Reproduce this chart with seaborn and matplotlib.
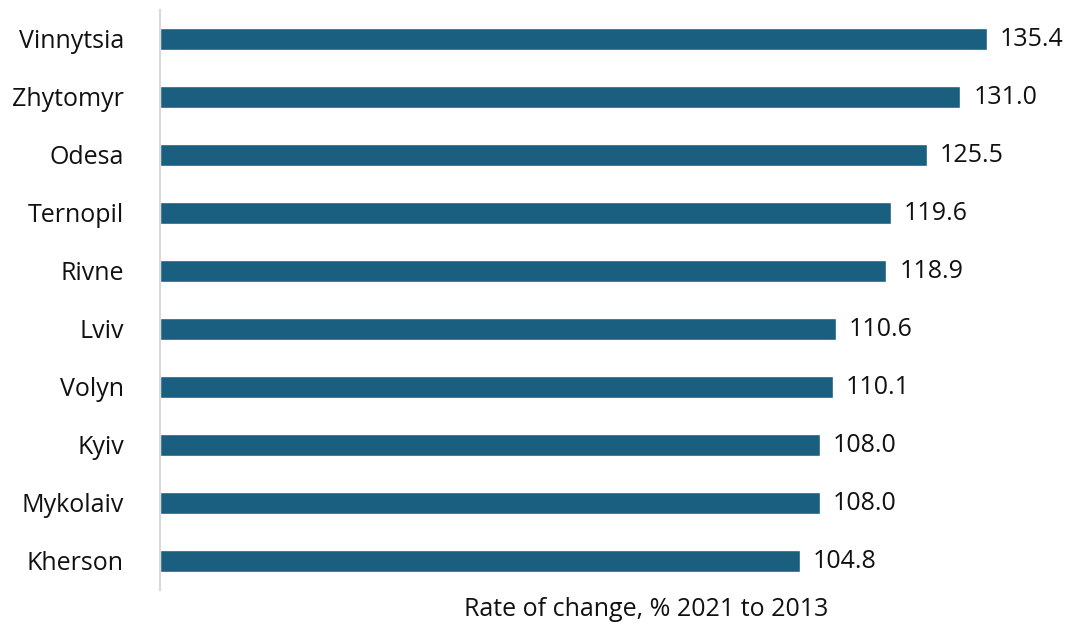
import matplotlib
matplotlib.use("Agg")
import matplotlib.pyplot as plt
import pandas as pd
import seaborn as sns

regions = ["Vinnytsia", "Zhytomyr", "Odesa", "Ternopil", "Rivne",
           "Lviv", "Volyn", "Kyiv", "Mykolaiv", "Kherson"]
rates = [135.4, 131.0, 125.5, 119.6, 118.9, 110.6, 110.1, 108.0, 108.0, 104.8]

BAR_COLOR = "#1a5f80"

sns.set_theme(style="white")
plt.rcParams["font.family"] = ["Open Sans", "DejaVu Sans"]

df = pd.DataFrame({"region": regions, "rate": rates})

fig = plt.figure(figsize=(10.75, 6.31), dpi=100)
ax = fig.add_axes([160 / 1075, 41 / 631, 900 / 1075, 580 / 631])

sns.barplot(data=df, x="rate", y="region", color=BAR_COLOR, width=0.37,
            saturation=1, ax=ax)

for i, v in enumerate(rates):
    ax.text(v + 2.1, i, f"{v:.1f}", va="center", ha="left",
            fontsize=18, color="#111111")

ax.set_xlim(0, 147.3)
ax.set_ylim(9.5, -0.5)
ax.set_xticks([])
ax.set_xlabel("")
ax.set_ylabel("")
ax.tick_params(axis="y", length=0, pad=26, labelsize=18, labelcolor="#111111")
for side in ["top", "right", "bottom"]:
    ax.spines[side].set_visible(False)
ax.spines["left"].set_color("#d9d9d9")
ax.spines["left"].set_linewidth(1.5)

fig.text(646 / 1075, 1 - 610 / 631, "Rate of change, % 2021 to 2013",
         ha="center", va="center", fontsize=18, color="#111111")

fig.savefig("out.png", dpi=100)
